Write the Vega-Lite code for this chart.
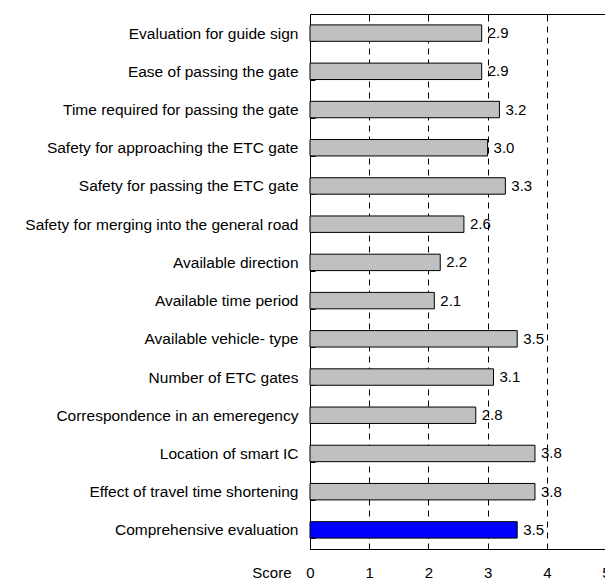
{
  "$schema": "https://vega.github.io/schema/vega-lite/v6.json",
  "width": 296,
  "height": 535,
  "autosize": {"type": "none"},
  "padding": {"left": 310, "top": 14, "right": 0, "bottom": 30},
  "background": "white",
  "config": {"view": {"stroke": null}, "font": "Liberation Sans"},
  "data": {
    "values": [
      {"item": "Evaluation for guide sign", "score": 2.9, "group": "item"},
      {"item": "Ease of passing the gate", "score": 2.9, "group": "item"},
      {"item": "Time required for passing the gate", "score": 3.2, "group": "item"},
      {"item": "Safety for approaching the ETC gate", "score": 3.0, "group": "item"},
      {"item": "Safety for passing the ETC gate", "score": 3.3, "group": "item"},
      {"item": "Safety for merging into the general road", "score": 2.6, "group": "item"},
      {"item": "Available direction", "score": 2.2, "group": "item"},
      {"item": "Available time period", "score": 2.1, "group": "item"},
      {"item": "Available vehicle- type", "score": 3.5, "group": "item"},
      {"item": "Number of ETC gates", "score": 3.1, "group": "item"},
      {"item": "Correspondence in an emeregency", "score": 2.8, "group": "item"},
      {"item": "Location of smart IC", "score": 3.8, "group": "item"},
      {"item": "Effect of travel time shortening", "score": 3.8, "group": "item"},
      {"item": "Comprehensive evaluation", "score": 3.5, "group": "overall"}
    ]
  },
  "encoding": {
    "y": {
      "field": "item", "type": "nominal", "sort": null,
      "scale": {"paddingInner": 0.57, "paddingOuter": 0.285},
      "axis": {
        "title": null, "domainColor": "black", "tickColor": "black",
        "tickBand": "extent", "tickSize": -5, "labelPadding": 17,
        "labelFontSize": 15.5, "labelColor": "black", "labelLimit": 400
      }
    }
  },
  "layer": [
    {
      "mark": {"type": "bar", "stroke": "black", "strokeWidth": 1},
      "encoding": {
        "x": {
          "field": "score", "type": "quantitative",
          "scale": {"domain": [0, 5], "nice": false},
          "axis": {
            "orient": "bottom",
            "values": [0, 1, 2, 3, 4, 5], "format": "d",
            "domainColor": "black", "tickColor": "black", "tickSize": -5,
            "labelPadding": 21, "labelFontSize": 15, "labelColor": "black",
            "labelFlush": false,
            "grid": true, "gridColor": "black", "gridDash": [6, 5], "gridOpacity": 1,
            "title": "Score", "titleX": -19, "titleY": 23, "titleAlign": "right",
            "titleBaseline": "middle", "titleFontWeight": "normal", "titleFontSize": 15,
            "titleColor": "black"
          }
        },
        "color": {
          "field": "group", "type": "nominal",
          "scale": {"domain": ["item", "overall"], "range": ["#c0c0c0", "#0000ff"]},
          "legend": null
        }
      }
    },
    {
      "mark": {"type": "text", "align": "left", "dx": 6, "fontSize": 15, "color": "black"},
      "encoding": {
        "x": {"field": "score", "type": "quantitative", "axis": null},
        "text": {"field": "score", "type": "quantitative", "format": ".1f"}
      }
    },
    {
      "mark": {"type": "bar", "opacity": 0},
      "encoding": {
        "x": {
          "field": "score", "type": "quantitative",
          "axis": {
            "orient": "top", "values": [0, 1, 2, 3, 4, 5], "labels": false,
            "grid": false, "title": null, "domainColor": "black",
            "tickColor": "black", "tickSize": -5
          }
        }
      }
    }
  ],
  "resolve": {"axis": {"x": "independent"}}
}
